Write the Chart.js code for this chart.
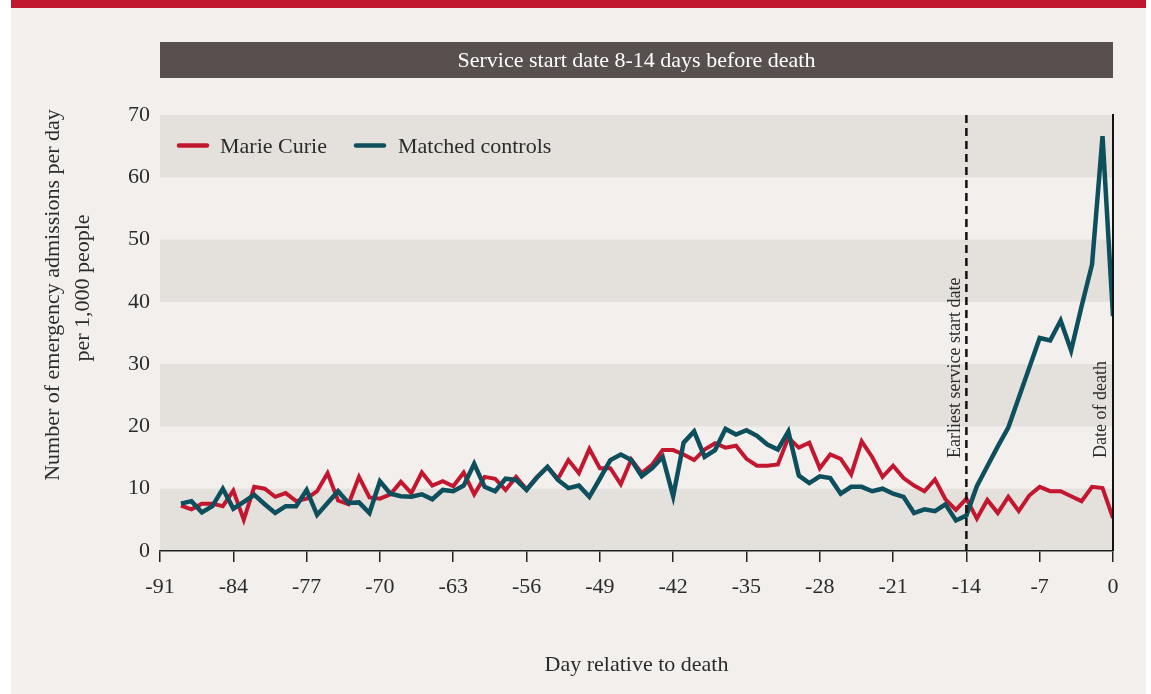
<!DOCTYPE html>
<html>
<head>
<meta charset="utf-8">
<script src="https://cdn.jsdelivr.net/npm/chart.js@4/dist/chart.umd.min.js"></script>
<style>
html,body{margin:0;padding:0;background:#fff;overflow:hidden}
canvas{display:block}
</style>
</head>
<body>
<canvas id="c" width="1151" height="694"></canvas>
<script>
// ---------- data ----------
const days = [-89,-88,-87,-86,-85,-84,-83,-82,-81,-80,-79,-78,-77,-76,-75,-74,-73,-72,-71,-70,
  -69,-68,-67,-66,-65,-64,-63,-62,-61,-60,-59,-58,-57,-56,-55,-54,-53,-52,-51,-50,
  -49,-48,-47,-46,-45,-44,-43,-42,-41,-40,-39,-38,-37,-36,-35,-34,-33,-32,-31,-30,
  -29,-28,-27,-26,-25,-24,-23,-22,-21,-20,-19,-18,-17,-16,-15,-14,-13,-12,-11,-10,
  -9,-8,-7,-6,-5,-4,-3,-2,-1,0];

const marieCurie = [7.3,6.7,7.6,7.6,7.2,9.7,5.0,10.3,10.0,8.7,9.3,8.0,8.4,9.6,12.5,8.1,7.5,11.9,8.6,8.4,
  9.1,11.1,9.3,12.6,10.5,11.2,10.4,12.6,9.1,11.9,11.6,9.8,11.9,9.9,11.9,13.5,11.6,14.6,12.5,16.4,
  13.3,13.3,10.7,14.7,12.5,13.9,16.2,16.2,15.5,14.6,16.3,17.3,16.6,16.9,14.8,13.7,13.7,13.9,18.2,16.6,
  17.4,13.3,15.5,14.8,12.3,17.6,15.1,11.9,13.7,11.7,10.5,9.6,11.5,8.3,6.6,8.4,5.2,8.2,6.1,8.7,
  6.4,8.9,10.3,9.6,9.6,8.8,8.0,10.3,10.1,5.3];

const matchedControls = [7.6,8.0,6.2,7.2,10.0,6.8,7.9,9.0,7.5,6.1,7.2,7.2,9.8,5.8,7.7,9.6,7.7,7.8,6.1,11.2,
  9.2,8.8,8.7,9.1,8.3,9.8,9.6,10.5,14.0,10.3,9.6,11.6,11.4,9.8,11.8,13.5,11.4,10.1,10.5,8.7,
  11.6,14.6,15.5,14.6,12.0,13.3,15.1,8.8,17.4,19.2,15.1,16.2,19.6,18.7,19.4,18.5,17.1,16.3,19.2,12.1,
  10.9,12.0,11.7,9.2,10.3,10.3,9.6,10.0,9.2,8.7,6.1,6.7,6.4,7.5,4.9,5.7,10.4,13.6,16.8,19.8,
  24.6,29.4,34.2,33.8,37.0,32.2,39.3,46.0,66.6,37.7];

const xTicks = [-91,-84,-77,-70,-63,-56,-49,-42,-35,-28,-21,-14,-7,0];
const yTicks = [0,10,20,30,40,50,60,70];
const seriesNames = ['Marie Curie','Matched controls'];
const panelTitle = 'Service start date 8-14 days before death';
const xTitle = 'Day relative to death';
const yTitle = ['Number of emergency admissions per day','per 1,000 people'];
const markerDays = [-14, 0];
const markerLabels = ['Earliest service start date','Date of death'];

// ---------- style ----------
const FONT = "'Liberation Serif', 'Times New Roman', 'DejaVu Serif', serif";
const RED = '#c3162f';
const TEAL = '#0d4f5c';
const TXT = '#2b2b2b';
const BG = '#f2efec';
const BAND = '#e4e0db';

const deco = {
  id: 'deco',
  beforeDraw(chart) {
    const {ctx, chartArea: a, scales: {y}} = chart;
    ctx.save();
    ctx.fillStyle = '#ffffff';
    ctx.fillRect(0, 0, chart.width, chart.height);
    ctx.fillStyle = BG;
    ctx.fillRect(11, 0, 1135, chart.height);
    ctx.fillStyle = '#c1172f';
    ctx.fillRect(11, 0, 1135, 8);
    // panel title band
    ctx.fillStyle = '#57504e';
    ctx.fillRect(a.left, 42, a.right - a.left, 36);
    ctx.fillStyle = '#ffffff';
    ctx.font = '22px ' + FONT;
    ctx.textAlign = 'center';
    ctx.textBaseline = 'middle';
    ctx.fillText(panelTitle, (a.left + a.right) / 2, 61);
    // alternating bands
    for (let i = 0; i < yTicks.length - 1; i += 2) {
      const t = y.getPixelForValue(yTicks[i + 1]);
      const b = y.getPixelForValue(yTicks[i]);
      ctx.fillStyle = BAND;
      ctx.fillRect(a.left, t, a.right - a.left, b - t);
    }
    // y axis title (two lines, rotated)
    ctx.fillStyle = TXT;
    ctx.font = '22px ' + FONT;
    const yc = [295, 288];
    const xc = [53, 83];
    yTitle.forEach((line, i) => {
      ctx.save();
      ctx.translate(xc[i], yc[i]);
      ctx.rotate(-Math.PI / 2);
      ctx.textAlign = 'center';
      ctx.textBaseline = 'middle';
      ctx.fillText(line, 0, 0);
      ctx.restore();
    });
    ctx.restore();
  },
  afterDatasetsDraw(chart) {
    const {ctx, chartArea: a, scales: {x}} = chart;
    ctx.save();
    // dashed marker at earliest service start
    const xd = x.getPixelForValue(markerDays[0]);
    ctx.strokeStyle = '#111';
    ctx.lineWidth = 2.5;
    ctx.setLineDash([8, 5]);
    ctx.beginPath();
    ctx.moveTo(xd, a.top);
    ctx.lineTo(xd, a.bottom);
    ctx.stroke();
    // solid marker at date of death
    const x0 = x.getPixelForValue(markerDays[1]);
    ctx.setLineDash([]);
    ctx.lineWidth = 2;
    ctx.beginPath();
    ctx.moveTo(x0, a.top - 1);
    ctx.lineTo(x0, a.bottom);
    ctx.stroke();
    // rotated marker labels
    ctx.fillStyle = TXT;
    ctx.font = '18px ' + FONT;
    ctx.textAlign = 'left';
    ctx.textBaseline = 'middle';
    [[xd - 11, markerLabels[0]], [x0 - 12, markerLabels[1]]].forEach(([px, label]) => {
      ctx.save();
      ctx.translate(px, 458);
      ctx.rotate(-Math.PI / 2);
      ctx.fillText(label, 0, 0);
      ctx.restore();
    });
    ctx.restore();
  },
  afterDraw(chart) {
    const {ctx} = chart;
    ctx.save();
    const items = [[177, 220, RED, seriesNames[0]], [354, 398, TEAL, seriesNames[1]]];
    items.forEach(([lx, tx, col, name]) => {
      ctx.strokeStyle = col;
      ctx.lineWidth = 4.5;
      ctx.lineCap = 'round';
      ctx.beginPath();
      ctx.moveTo(lx + 2, 145.5);
      ctx.lineTo(lx + 30, 145.5);
      ctx.stroke();
      ctx.fillStyle = TXT;
      ctx.font = '22px ' + FONT;
      ctx.textAlign = 'left';
      ctx.textBaseline = 'middle';
      ctx.fillText(name, tx, 147);
    });
    ctx.restore();
  }
};

new Chart(document.getElementById('c'), {
  type: 'line',
  data: {
    datasets: [
      {
        label: seriesNames[0],
        data: days.map((d, i) => ({x: d, y: marieCurie[i]})),
        borderColor: RED,
        backgroundColor: RED,
        borderWidth: 4,
        pointRadius: 0,
        tension: 0,
        order: 1
      },
      {
        label: seriesNames[1],
        data: days.map((d, i) => ({x: d, y: matchedControls[i]})),
        borderColor: TEAL,
        backgroundColor: TEAL,
        borderWidth: 4.5,
        pointRadius: 0,
        tension: 0,
        order: 0
      }
    ]
  },
  options: {
    responsive: false,
    animation: false,
    devicePixelRatio: 1,
    layout: {padding: {top: 115, right: 38, bottom: 0, left: 0}},
    plugins: {legend: {display: false}, tooltip: {enabled: false}, title: {display: false}},
    scales: {
      x: {
        type: 'linear',
        min: -91,
        max: 0,
        afterBuildTicks: s => { s.ticks = xTicks.map(v => ({value: v})); },
        afterFit: s => { s.height = 143; },
        grid: {display: true, drawOnChartArea: false, drawTicks: true, tickLength: 11, color: '#222', lineWidth: 1.5},
        border: {display: true, color: '#222', width: 1.5},
        ticks: {
          padding: 12,
          color: TXT,
          autoSkip: false,
          maxRotation: 0,
          font: {family: FONT, size: 22},
          callback: v => String(v)
        },
        title: {
          display: true,
          text: xTitle,
          color: TXT,
          font: {family: FONT, size: 22},
          padding: {top: 0, bottom: 16}
        }
      },
      y: {
        min: 0,
        max: 70,
        afterBuildTicks: s => { s.ticks = yTicks.map(v => ({value: v})); },
        afterFit: s => { s.width = 160; },
        grid: {display: false, drawTicks: false},
        border: {display: false},
        ticks: {
          padding: 10,
          color: TXT,
          font: {family: FONT, size: 22}
        }
      }
    }
  },
  plugins: [deco]
});
</script>
</body>
</html>
